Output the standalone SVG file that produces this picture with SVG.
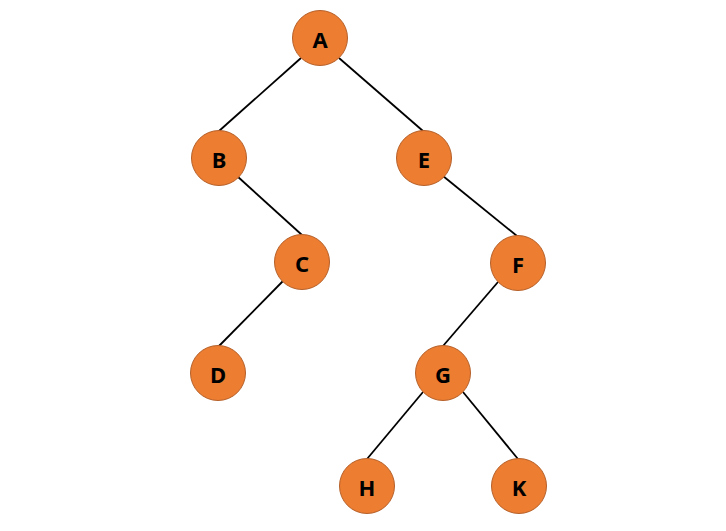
<svg xmlns="http://www.w3.org/2000/svg" width="726" height="531" viewBox="0 0 726 531">
<style>
.n circle{fill:#ED7D31;stroke:#B5602A;stroke-width:1}
.n text{font-family:"Noto Sans","DejaVu Sans",sans-serif;font-weight:bold;font-size:22px;fill:#000;text-anchor:middle;dominant-baseline:central}
#edges line{stroke:#000;stroke-width:1.8}
</style>
<rect width="726" height="531" fill="#fff"/>
<g id="edges">
<line x1="301" y1="58" x2="219" y2="131"/>
<line x1="339" y1="58" x2="423" y2="131"/>
<line x1="237" y1="176" x2="302" y2="235"/>
<line x1="283" y1="281" x2="219" y2="346"/>
<line x1="443" y1="176" x2="517" y2="236"/>
<line x1="498" y1="282" x2="443" y2="346"/>
<line x1="423" y1="392" x2="367" y2="459"/>
<line x1="463" y1="392" x2="518" y2="459"/>
</g>
<g id="A" class="n"><circle cx="320" cy="38" r="27.5"/><text x="320" y="39">A</text></g>
<g id="B" class="n"><circle cx="219" cy="158" r="27.5"/><text x="219" y="159">B</text></g>
<g id="E" class="n"><circle cx="424" cy="158" r="27.5"/><text x="424" y="159">E</text></g>
<g id="C" class="n"><circle cx="302" cy="262" r="27.5"/><text x="302" y="263">C</text></g>
<g id="F" class="n"><circle cx="518" cy="263" r="27.5"/><text x="518" y="264">F</text></g>
<g id="D" class="n"><circle cx="218" cy="373" r="27.5"/><text x="218" y="374">D</text></g>
<g id="G" class="n"><circle cx="443" cy="373" r="27.5"/><text x="443" y="374">G</text></g>
<g id="H" class="n"><circle cx="367" cy="486" r="27.5"/><text x="367" y="487">H</text></g>
<g id="K" class="n"><circle cx="519" cy="486" r="27.5"/><text x="519" y="487">K</text></g>
</svg>
